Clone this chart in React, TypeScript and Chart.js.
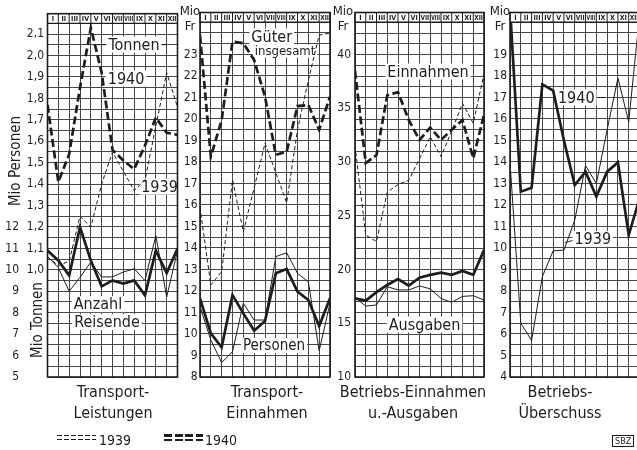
import React, { useEffect, useRef } from 'react';
import { Chart, registerables } from 'chart.js';

Chart.register(...registerables);

const FONT = "'Liberation Sans Narrow', 'DejaVu Sans Condensed', 'DejaVu Sans', sans-serif";
const INK = '#1d1d1d';
const GRID = '#474747';
const W = 642;
const H = 450;
const TOP = 12.5;
const BOTTOM = 377;

// month header labels and point positions (month boundaries)
const MONTHS = ['I', 'II', 'III', 'IV', 'V', 'VI', 'VII', 'VIII', 'IX', 'X', 'XI', 'XII'];
const STEPS = [0, 1, 2, 3, 4, 5, 6, 7, 8, 9, 10, 11, 12];

// Transport-Leistungen
const TONNEN_1940 = [1.77, 1.41, 1.54, 1.85, 2.13, 1.92, 1.56, 1.51, 1.47, 1.58, 1.71, 1.64, 1.63];
const TONNEN_1939 = [1.06, 1.02, 1.04, 1.25, 1.2, 1.4, 1.55, 1.46, 1.37, 1.42, 1.67, 1.92, 1.76];
const REISENDE_1940 = [10.9, 10.44, 9.74, 11.99, 10.44, 9.23, 9.51, 9.36, 9.51, 8.81, 10.9, 9.85, 11.0];
const REISENDE_1939 = [10.63, 10.1, 9.0, 9.65, 10.36, 9.67, 9.67, 9.9, 10.05, 9.5, 11.6, 8.73, 10.9];

// Transport-Einnahmen
const GUETER_1940 = [23.9, 18.25, 19.95, 23.6, 23.52, 22.74, 21.04, 18.33, 18.48, 20.6, 20.65, 19.5, 21.04];
const GUETER_1939 = [15.9, 12.28, 12.9, 17.16, 14.76, 16.8, 18.87, 17.5, 16.1, 19.5, 21.8, 23.9, 24.0];
const PERSONEN_1940 = [11.66, 10.03, 9.38, 11.81, 10.96, 10.15, 10.6, 12.82, 13.02, 11.97, 11.58, 10.37, 11.66];
const PERSONEN_1939 = [11.27, 9.72, 8.67, 9.18, 11.43, 10.65, 10.65, 13.6, 13.78, 12.82, 12.43, 9.22, 11.43];

// Betriebs-Einnahmen u. -Ausgaben
const EINNAHMEN_1940 = [38.5, 29.9, 30.65, 36.2, 36.5, 33.9, 32.05, 33.2, 32.05, 33.0, 33.9, 30.35, 34.4];
const EINNAHMEN_1939 = [31.5, 23.2, 22.6, 27.2, 27.9, 28.3, 30.3, 32.35, 30.5, 32.9, 35.45, 33.6, 38.2];
const AUSGABEN_1940 = [17.32, 17.1, 17.9, 18.56, 19.1, 18.5, 19.24, 19.5, 19.7, 19.5, 19.86, 19.5, 21.8];
const AUSGABEN_1939 = [17.4, 16.6, 16.7, 18.4, 18.1, 18.1, 18.47, 18.2, 17.3, 16.95, 17.5, 17.56, 17.16];

// Betriebs-Überschuss
const UEBERSCHUSS_1940 = [21.2, 12.62, 12.8, 17.61, 17.32, 15.0, 12.93, 13.55, 12.39, 13.55, 13.98, 10.6, 12.3];
const UEBERSCHUSS_1939 = [14.0, 6.5, 5.7, 8.67, 9.87, 9.9, 11.3, 13.83, 13.0, 15.5, 17.9, 15.87, 20.8];

// tick labels
const PERSONEN_TICKS = [5, 6, 7, 8, 9, 10, 11, 12];
const TONNEN_TICKS = [1.0, 1.1, 1.2, 1.3, 1.4, 1.5, 1.6, 1.7, 1.8, 1.9, 2.0, 2.1];
const TRANSPORT_FR_TICKS = [8, 9, 10, 11, 12, 13, 14, 15, 16, 17, 18, 19, 20, 21, 22, 23];
const BETRIEB_FR_TICKS = [10, 15, 20, 25, 30, 35, 40];
const UEBERSCHUSS_TICKS = [4, 5, 6, 7, 8, 9, 10, 11, 12, 13, 14, 15, 16, 17, 18, 19];

type LineSpec = { data: number[]; year: number; dashed: boolean; axis: string };
type AxisSpec = {
  id: string; min: number; span: number; ticks: number[]; labels: number[];
  fmt: (v: number) => string; grid: boolean; width: number; pad: number; weight: number;
};
type NoteSpec = { text: string; x: number; y: number; size: number; leaders?: number[][] };
type PanelSpec = {
  left: number; right: number; axes: AxisSpec[]; noteAxis: string; headerAt: number;
  lines: LineSpec[]; notes: NoteSpec[];
};

const gridTicks = (start: number, step: number, n: number) =>
  Array.from({ length: n }, (_, i) => start + i * step);

const plain = (v: number) => String(v);
const comma = (v: number) => v.toFixed(1).replace('.', ',');

const PANELS: PanelSpec[] = [
  {
    left: 47.5, right: 177.5, noteAxis: 'yP', headerAt: 21.5,
    axes: [
      { id: 'yP', min: 5, span: 16.953, ticks: gridTicks(5, 0.5, 34), labels: PERSONEN_TICKS, fmt: plain, grid: true, width: 24, pad: 6.5, weight: 1 },
      { id: 'yT', min: 0.5, span: 1.6953, ticks: TONNEN_TICKS, labels: TONNEN_TICKS, fmt: comma, grid: false, width: 22, pad: 3.5, weight: 0 },
    ],
    lines: [
      { data: TONNEN_1939, year: 1939, dashed: true, axis: 'yT' },
      { data: REISENDE_1939, year: 1939, dashed: false, axis: 'yP' },
      { data: TONNEN_1940, year: 1940, dashed: true, axis: 'yT' },
      { data: REISENDE_1940, year: 1940, dashed: false, axis: 'yP' },
    ],
    notes: [
      { text: 'Tonnen', x: 7.98, y: 20.51, size: 16, leaders: [[4.6, 20.51, 10.95, 20.51]] },
      { text: '1940', x: 7.25, y: 18.93, size: 16, leaders: [[5.45, 18.72, 6.1, 18.93]] },
      { text: '1939', x: 10.34, y: 13.88, size: 16, leaders: [[8.63, 13.7, 9.2, 13.88]] },
      { text: 'Anzahl', x: 4.66, y: 8.4, size: 16 },
      { text: 'Reisende', x: 5.49, y: 7.56, size: 16, leaders: [[8.0, 7.56, 8.75, 7.56]] },
    ],
  },
  {
    left: 200, right: 330, noteAxis: 'y', headerAt: 24.5,
    axes: [
      { id: 'y', min: 8, span: 16.953, ticks: gridTicks(8, 0.5, 34), labels: TRANSPORT_FR_TICKS, fmt: plain, grid: true, width: 20, pad: 2.5, weight: 0 },
    ],
    lines: [
      { data: GUETER_1939, year: 1939, dashed: true, axis: 'y' },
      { data: PERSONEN_1939, year: 1939, dashed: false, axis: 'y' },
      { data: GUETER_1940, year: 1940, dashed: true, axis: 'y' },
      { data: PERSONEN_1940, year: 1940, dashed: false, axis: 'y' },
    ],
    notes: [
      { text: 'Güter', x: 6.62, y: 23.84, size: 16 },
      { text: 'insgesamt', x: 7.85, y: 23.16, size: 13 },
      { text: 'Personen', x: 6.83, y: 9.47, size: 15 },
    ],
  },
  {
    left: 355, right: 484, noteAxis: 'y', headerAt: 43,
    axes: [
      { id: 'y', min: 10, span: 33.907, ticks: gridTicks(10, 1, 34), labels: BETRIEB_FR_TICKS, fmt: plain, grid: true, width: 20, pad: 4, weight: 0 },
    ],
    lines: [
      { data: EINNAHMEN_1939, year: 1939, dashed: true, axis: 'y' },
      { data: AUSGABEN_1939, year: 1939, dashed: false, axis: 'y' },
      { data: EINNAHMEN_1940, year: 1940, dashed: true, axis: 'y' },
      { data: AUSGABEN_1940, year: 1940, dashed: false, axis: 'y' },
    ],
    notes: [
      { text: 'Einnahmen', x: 6.79, y: 38.42, size: 16 },
      { text: 'Ausgaben', x: 6.47, y: 14.88, size: 16 },
    ],
  },
  {
    left: 510, right: 639.5, noteAxis: 'y', headerAt: 20.5,
    axes: [
      { id: 'y', min: 4, span: 16.953, ticks: gridTicks(4, 0.5, 34), labels: UEBERSCHUSS_TICKS, fmt: plain, grid: true, width: 20, pad: 3, weight: 0 },
    ],
    lines: [
      { data: UEBERSCHUSS_1939, year: 1939, dashed: false, axis: 'y' },
      { data: UEBERSCHUSS_1940, year: 1940, dashed: false, axis: 'y' },
    ],
    notes: [
      { text: '1940', x: 6.14, y: 17.0, size: 16, leaders: [[4.3, 16.85, 4.8, 17.0], [7.4, 17.0, 8.8, 17.0]] },
      { text: '1939', x: 7.67, y: 10.42, size: 16, leaders: [[5.1, 10.25, 6.3, 10.42], [9.0, 10.42, 9.45, 10.42]] },
    ],
  },
];

function decorPlugin(p: PanelSpec) {
  return {
    id: 'panelDecor',
    beforeDatasetsDraw(chart: any) {
      const { ctx } = chart;
      const xs = chart.scales.x;
      const ys = chart.scales[p.noteAxis];
      ctx.save();
      for (const n of p.notes) {
        ctx.strokeStyle = INK;
        ctx.lineWidth = 1;
        for (const [x1, y1, x2, y2] of n.leaders || []) {
          ctx.beginPath();
          ctx.moveTo(xs.getPixelForValue(x1), ys.getPixelForValue(y1));
          ctx.lineTo(xs.getPixelForValue(x2), ys.getPixelForValue(y2));
          ctx.stroke();
        }
        ctx.font = `${n.size}px ${FONT}`;
        const px = xs.getPixelForValue(n.x);
        const py = ys.getPixelForValue(n.y);
        const w = ctx.measureText(n.text).width;
        ctx.fillStyle = '#ffffff';
        ctx.fillRect(px - w / 2 - 2, py - n.size * 0.5, w + 4, n.size);
        ctx.fillStyle = INK;
        ctx.textAlign = 'center';
        ctx.textBaseline = 'middle';
        ctx.fillText(n.text, px, py + 1);
      }
      ctx.restore();
    },
    afterDatasetsDraw(chart: any) {
      const { ctx, chartArea: ca } = chart;
      const xs = chart.scales.x;
      const ys = chart.scales[p.axes[0].id];
      const yb = ys.getPixelForValue(p.headerAt);
      ctx.save();
      ctx.fillStyle = '#ffffff';
      ctx.fillRect(ca.left, ca.top, ca.right - ca.left, yb - ca.top);
      ctx.strokeStyle = INK;
      ctx.lineWidth = 1;
      for (let k = 0; k <= 12; k++) {
        const x = xs.getPixelForValue(STEPS[k]);
        ctx.beginPath();
        ctx.moveTo(x, ca.top);
        ctx.lineTo(x, yb);
        ctx.stroke();
      }
      ctx.lineWidth = 1.3;
      ctx.beginPath();
      ctx.moveTo(ca.left, yb);
      ctx.lineTo(ca.right, yb);
      ctx.stroke();
      ctx.fillStyle = INK;
      ctx.font = `bold 7px ${FONT}`;
      ctx.textAlign = 'center';
      ctx.textBaseline = 'middle';
      MONTHS.forEach((m, k) => {
        const x0 = xs.getPixelForValue(STEPS[k]);
        const x1 = xs.getPixelForValue(STEPS[k + 1]);
        ctx.fillText(m, (x0 + x1) / 2, (ca.top + yb) / 2 + 0.5, x1 - x0 - 2);
      });
      ctx.lineWidth = 1.6;
      ctx.strokeRect(ca.left, ca.top, ca.right - ca.left, ca.bottom - ca.top);
      ctx.restore();
    },
  };
}

function buildConfig(p: PanelSpec): any {
  const scales: any = {
    x: {
      type: 'linear', min: 0, max: 12,
      afterBuildTicks: (s: any) => { s.ticks = STEPS.map((v) => ({ value: v })); },
      afterFit: (s: any) => { s.height = 0; },
      ticks: { display: false },
      grid: { color: GRID, lineWidth: 1, drawTicks: false },
      border: { display: false },
    },
  };
  let axesWidth = 0;
  for (const a of p.axes) {
    axesWidth += a.width;
    scales[a.id] = {
      type: 'linear', position: 'left', weight: a.weight,
      min: a.min, max: a.min + a.span,
      afterBuildTicks: (s: any) => { s.ticks = a.ticks.map((v) => ({ value: v })); },
      afterFit: (s: any) => { s.width = a.width; },
      ticks: {
        autoSkip: false, padding: a.pad, color: INK,
        font: { family: FONT, size: 12 },
        callback: (v: number) => (a.labels.includes(v) ? a.fmt(v) : ''),
      },
      grid: { display: a.grid, color: GRID, lineWidth: 1, drawTicks: false },
      border: { display: false },
    };
  }
  const datasets = p.lines.map((l) => ({
    data: l.data.map((v, i) => ({ x: STEPS[i], y: v })),
    xAxisID: 'x',
    yAxisID: l.axis,
    borderColor: INK,
    borderWidth: l.year === 1940 ? 2.7 : 1.0,
    borderDash: l.dashed ? (l.year === 1940 ? [8, 3.5] : [4, 2.5]) : [],
    pointRadius: 0,
    tension: 0,
    fill: false,
  }));
  return {
    type: 'line',
    data: { datasets },
    options: {
      animation: false,
      responsive: false,
      events: [],
      layout: { padding: { left: p.left - axesWidth, right: W - p.right, top: TOP, bottom: H - BOTTOM } },
      plugins: { legend: { display: false }, tooltip: { enabled: false } },
      scales,
    },
    plugins: [decorPlugin(p)],
  };
}

function PanelChart({ panel }: { panel: PanelSpec }) {
  const ref = useRef<HTMLCanvasElement>(null);
  useEffect(() => {
    const chart = new Chart(ref.current as HTMLCanvasElement, buildConfig(panel));
    return () => chart.destroy();
  }, [panel]);
  return (
    <canvas
      ref={ref}
      width={W}
      height={H}
      style={{ position: 'absolute', left: 0, top: 0, width: W, height: H }}
    />
  );
}

const TITLES = [
  { lines: ['Transport-', 'Leistungen'], cx: 113 },
  { lines: ['Transport-', 'Einnahmen'], cx: 267 },
  { lines: ['Betriebs-Einnahmen', 'u.-Ausgaben'], cx: 413 },
  { lines: ['Betriebs-', 'Überschuss'], cx: 560 },
];

const UNIT_LABELS = [{ cx: 190 }, { cx: 343 }, { cx: 500 }];

const txt: React.CSSProperties = { position: 'absolute', fontFamily: FONT, color: INK, whiteSpace: 'nowrap' };

function Dashes({ left, top, width, h, dash, gap }: { left: number; top: number; width: number; h: number; dash: number; gap: number }) {
  return (
    <div
      style={{
        position: 'absolute', left, top, width, height: h,
        background: `repeating-linear-gradient(90deg, ${INK} 0 ${dash}px, transparent ${dash}px ${dash + gap}px)`,
      }}
    />
  );
}

export default function App() {
  return (
    <div style={{ position: 'fixed', left: 0, top: 0, width: 637, height: 450, overflow: 'hidden', background: '#ffffff' }}>
      <div style={{ position: 'absolute', left: 0, top: 0, width: W, height: H }}>
        {PANELS.map((p, i) => (
          <PanelChart key={i} panel={p} />
        ))}
      </div>
      <div style={{ ...txt, left: 14.5, top: 161, fontSize: 15, transform: 'translate(-50%, -50%) rotate(-90deg)' }}>Mio Personen</div>
      <div style={{ ...txt, left: 37, top: 320, fontSize: 15, transform: 'translate(-50%, -50%) rotate(-90deg)' }}>Mio Tonnen</div>
      {UNIT_LABELS.map((u, i) => (
        <div key={i} style={{ ...txt, left: u.cx - 15, top: 3, width: 30, textAlign: 'center', fontSize: 13, lineHeight: '15px' }}>
          Mio<br />Fr
        </div>
      ))}
      {TITLES.map((t, i) => (
        <div key={i} style={{ ...txt, left: t.cx - 90, top: 381, width: 180, textAlign: 'center', fontSize: 16, lineHeight: '21px' }}>
          {t.lines[0]}<br />{t.lines[1]}
        </div>
      ))}
      <Dashes left={57} top={435} width={39} h={1} dash={5} gap={2} />
      <Dashes left={57} top={439} width={39} h={1} dash={5} gap={2} />
      <div style={{ ...txt, left: 99, top: 432, fontSize: 14, lineHeight: '16px' }}>1939</div>
      <Dashes left={164} top={434} width={39} h={2.5} dash={8} gap={2.5} />
      <Dashes left={164} top={438.5} width={39} h={2.5} dash={8} gap={2.5} />
      <div style={{ ...txt, left: 205, top: 432, fontSize: 14, lineHeight: '16px' }}>1940</div>
      <div style={{ ...txt, left: 612, top: 435, fontSize: 9, lineHeight: '10px', border: `1px solid ${INK}`, padding: '0 2px' }}>SBZ</div>
    </div>
  );
}
